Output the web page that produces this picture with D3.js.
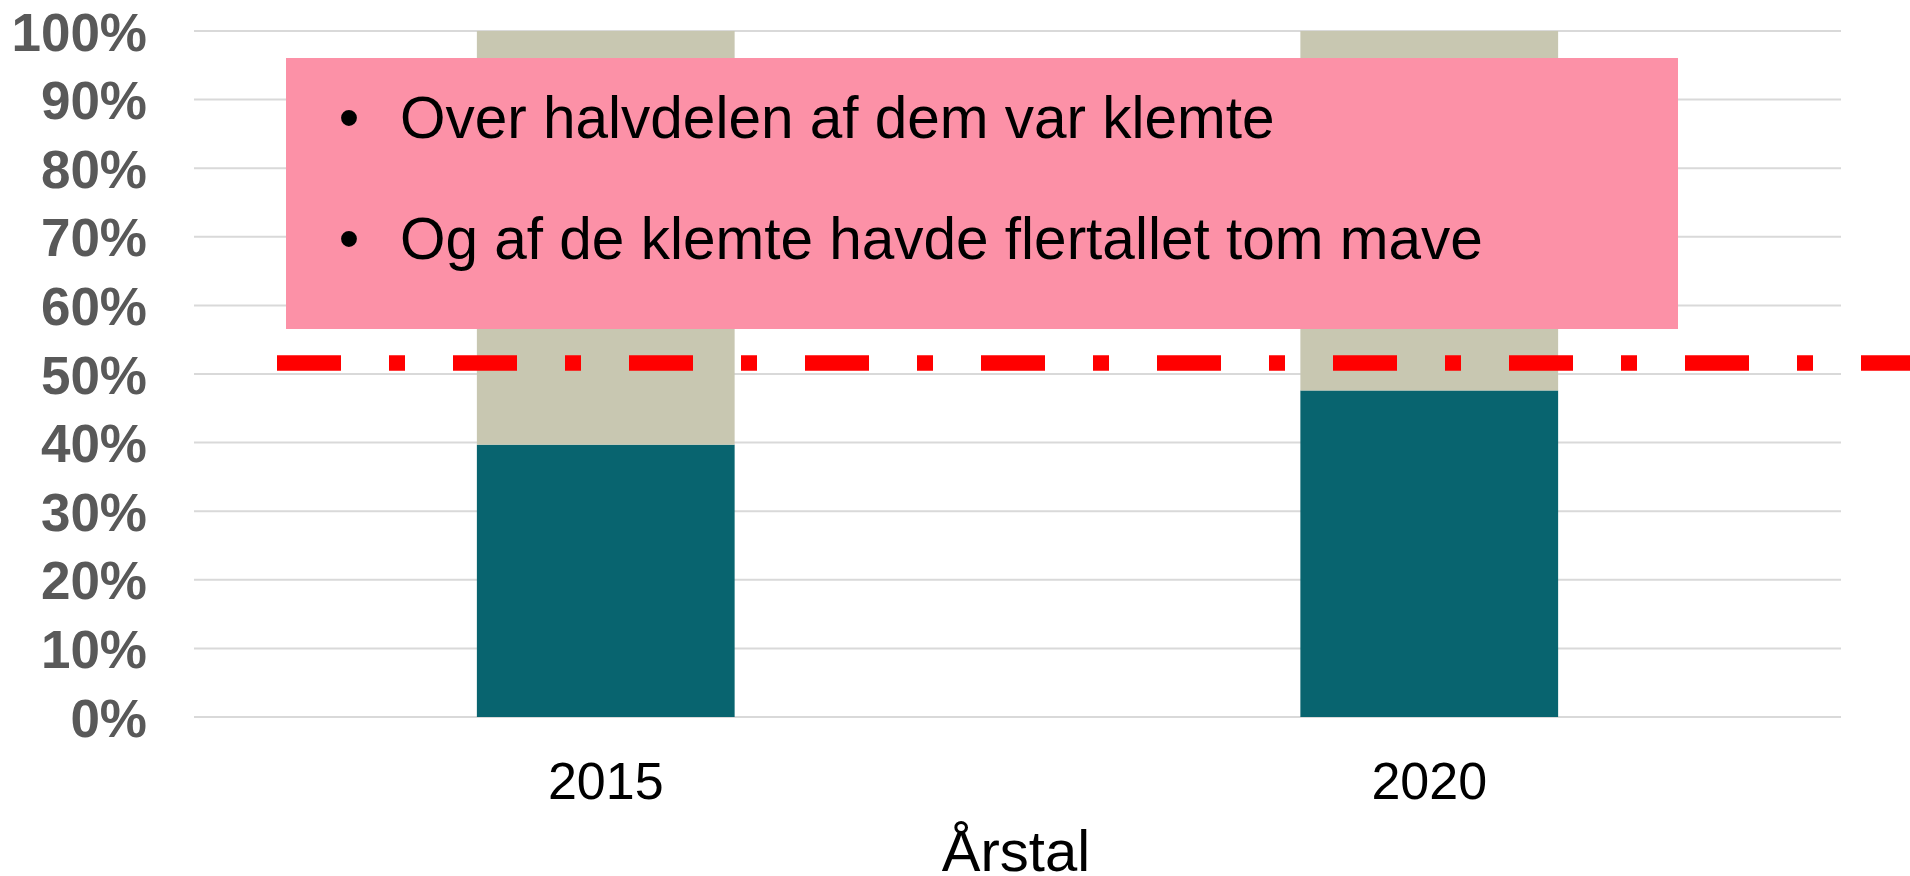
<!DOCTYPE html>
<html>
<head>
<meta charset="utf-8">
<script src="https://cdn.jsdelivr.net/npm/d3@7"></script>
<style>
  html, body { margin: 0; padding: 0; background: #fff; }
  svg { display: block; }
  text { font-family: "Liberation Sans", Arial, sans-serif; }
</style>
</head>
<body>
<svg id="chart" width="1910" height="876"></svg>
<script>
// ---- data ----
const categories = ["2015", "2020"];
const tealValues = [39.7, 47.6];        // lower segment (%)
const grayValues = [60.3, 52.4];        // upper segment (%) up to 100
const refLineValue = 51.6;              // red dash-dot reference line (%)
const yTicks = [0, 10, 20, 30, 40, 50, 60, 70, 80, 90, 100];
const yTickLabels = yTicks.map(d => d + "%");
const boxLines = ["Over halvdelen af dem var klemte", "Og af de klemte havde flertallet tom mave"];
const xTitle = "Årstal";

// ---- layout ----
const W = 1910, H = 876;
const plot = { left: 194, right: 1841, top: 31, bottom: 717 };
const svg = d3.select("#chart");

const x = d3.scaleBand().domain(categories)
  .range([plot.left, plot.right]).paddingInner(0.687).paddingOuter(0.3435);
const y = d3.scaleLinear().domain([0, 100]).range([plot.bottom, plot.top]);

// gridlines
svg.append("g").selectAll("line").data(yTicks).join("line")
  .attr("x1", plot.left).attr("x2", plot.right)
  .attr("y1", d => y(d)).attr("y2", d => y(d))
  .attr("stroke", "#d9d9d9").attr("stroke-width", 2);

// y axis labels
const yAxis = d3.axisLeft(y).tickValues(yTicks).tickFormat((d, i) => yTickLabels[i]).tickSize(0).tickPadding(0);
const yg = svg.append("g").attr("transform", `translate(147,0)`).call(yAxis);
yg.select(".domain").remove();
yg.selectAll("text")
  .attr("font-family", '"Liberation Sans", Arial, sans-serif')
  .attr("font-size", 53).attr("font-weight", "bold").attr("fill", "#595959")
  .attr("dy", "0.36em");

// stacked bars
const stackData = categories.map((c, i) => ({ cat: c, teal: tealValues[i], gray: grayValues[i] }));
const stack = d3.stack().keys(["teal", "gray"])(stackData);
const colors = { teal: "#08646F", gray: "#C8C7B1" };
svg.append("g").selectAll("g").data(stack).join("g")
  .attr("fill", d => colors[d.key])
  .selectAll("rect").data(d => d).join("rect")
  .attr("x", d => x(d.data.cat))
  .attr("width", x.bandwidth())
  .attr("y", d => y(d[1]))
  .attr("height", d => y(d[0]) - y(d[1]));

// x axis labels
const xAxis = d3.axisBottom(x).tickSize(0).tickPadding(0);
const xg = svg.append("g").attr("transform", `translate(0,${plot.bottom})`).call(xAxis);
xg.select(".domain").remove();
xg.selectAll("text")
  .attr("font-family", '"Liberation Sans", Arial, sans-serif')
  .attr("font-size", 52).attr("fill", "#000")
  .attr("y", 82).attr("dy", 0);

// x axis title
svg.append("text").attr("x", 1016).attr("y", 871)
  .attr("text-anchor", "middle").attr("font-size", 58).attr("fill", "#000")
  .text(xTitle);

// pink text box
svg.append("rect").attr("x", 286).attr("y", 58).attr("width", 1678 - 286).attr("height", 329 - 58)
  .attr("fill", "#FC91A7");
const tg = svg.append("g");
boxLines.forEach((t, i) => {
  const by = 138 + i * 121;
  tg.append("text").attr("x", 349).attr("y", by).attr("text-anchor", "middle")
    .attr("font-size", 58.5).attr("fill", "#000").text("•");
  tg.append("text").attr("x", 400).attr("y", by)
    .attr("font-size", 58.5).attr("fill", "#000").text(t);
});

// red dash-dot reference line
svg.append("line")
  .attr("x1", 277).attr("x2", W)
  .attr("y1", y(refLineValue)).attr("y2", y(refLineValue))
  .attr("stroke", "#FF0000").attr("stroke-width", 15.7)
  .attr("stroke-dasharray", "64,48,16,48");
</script>
</body>
</html>
